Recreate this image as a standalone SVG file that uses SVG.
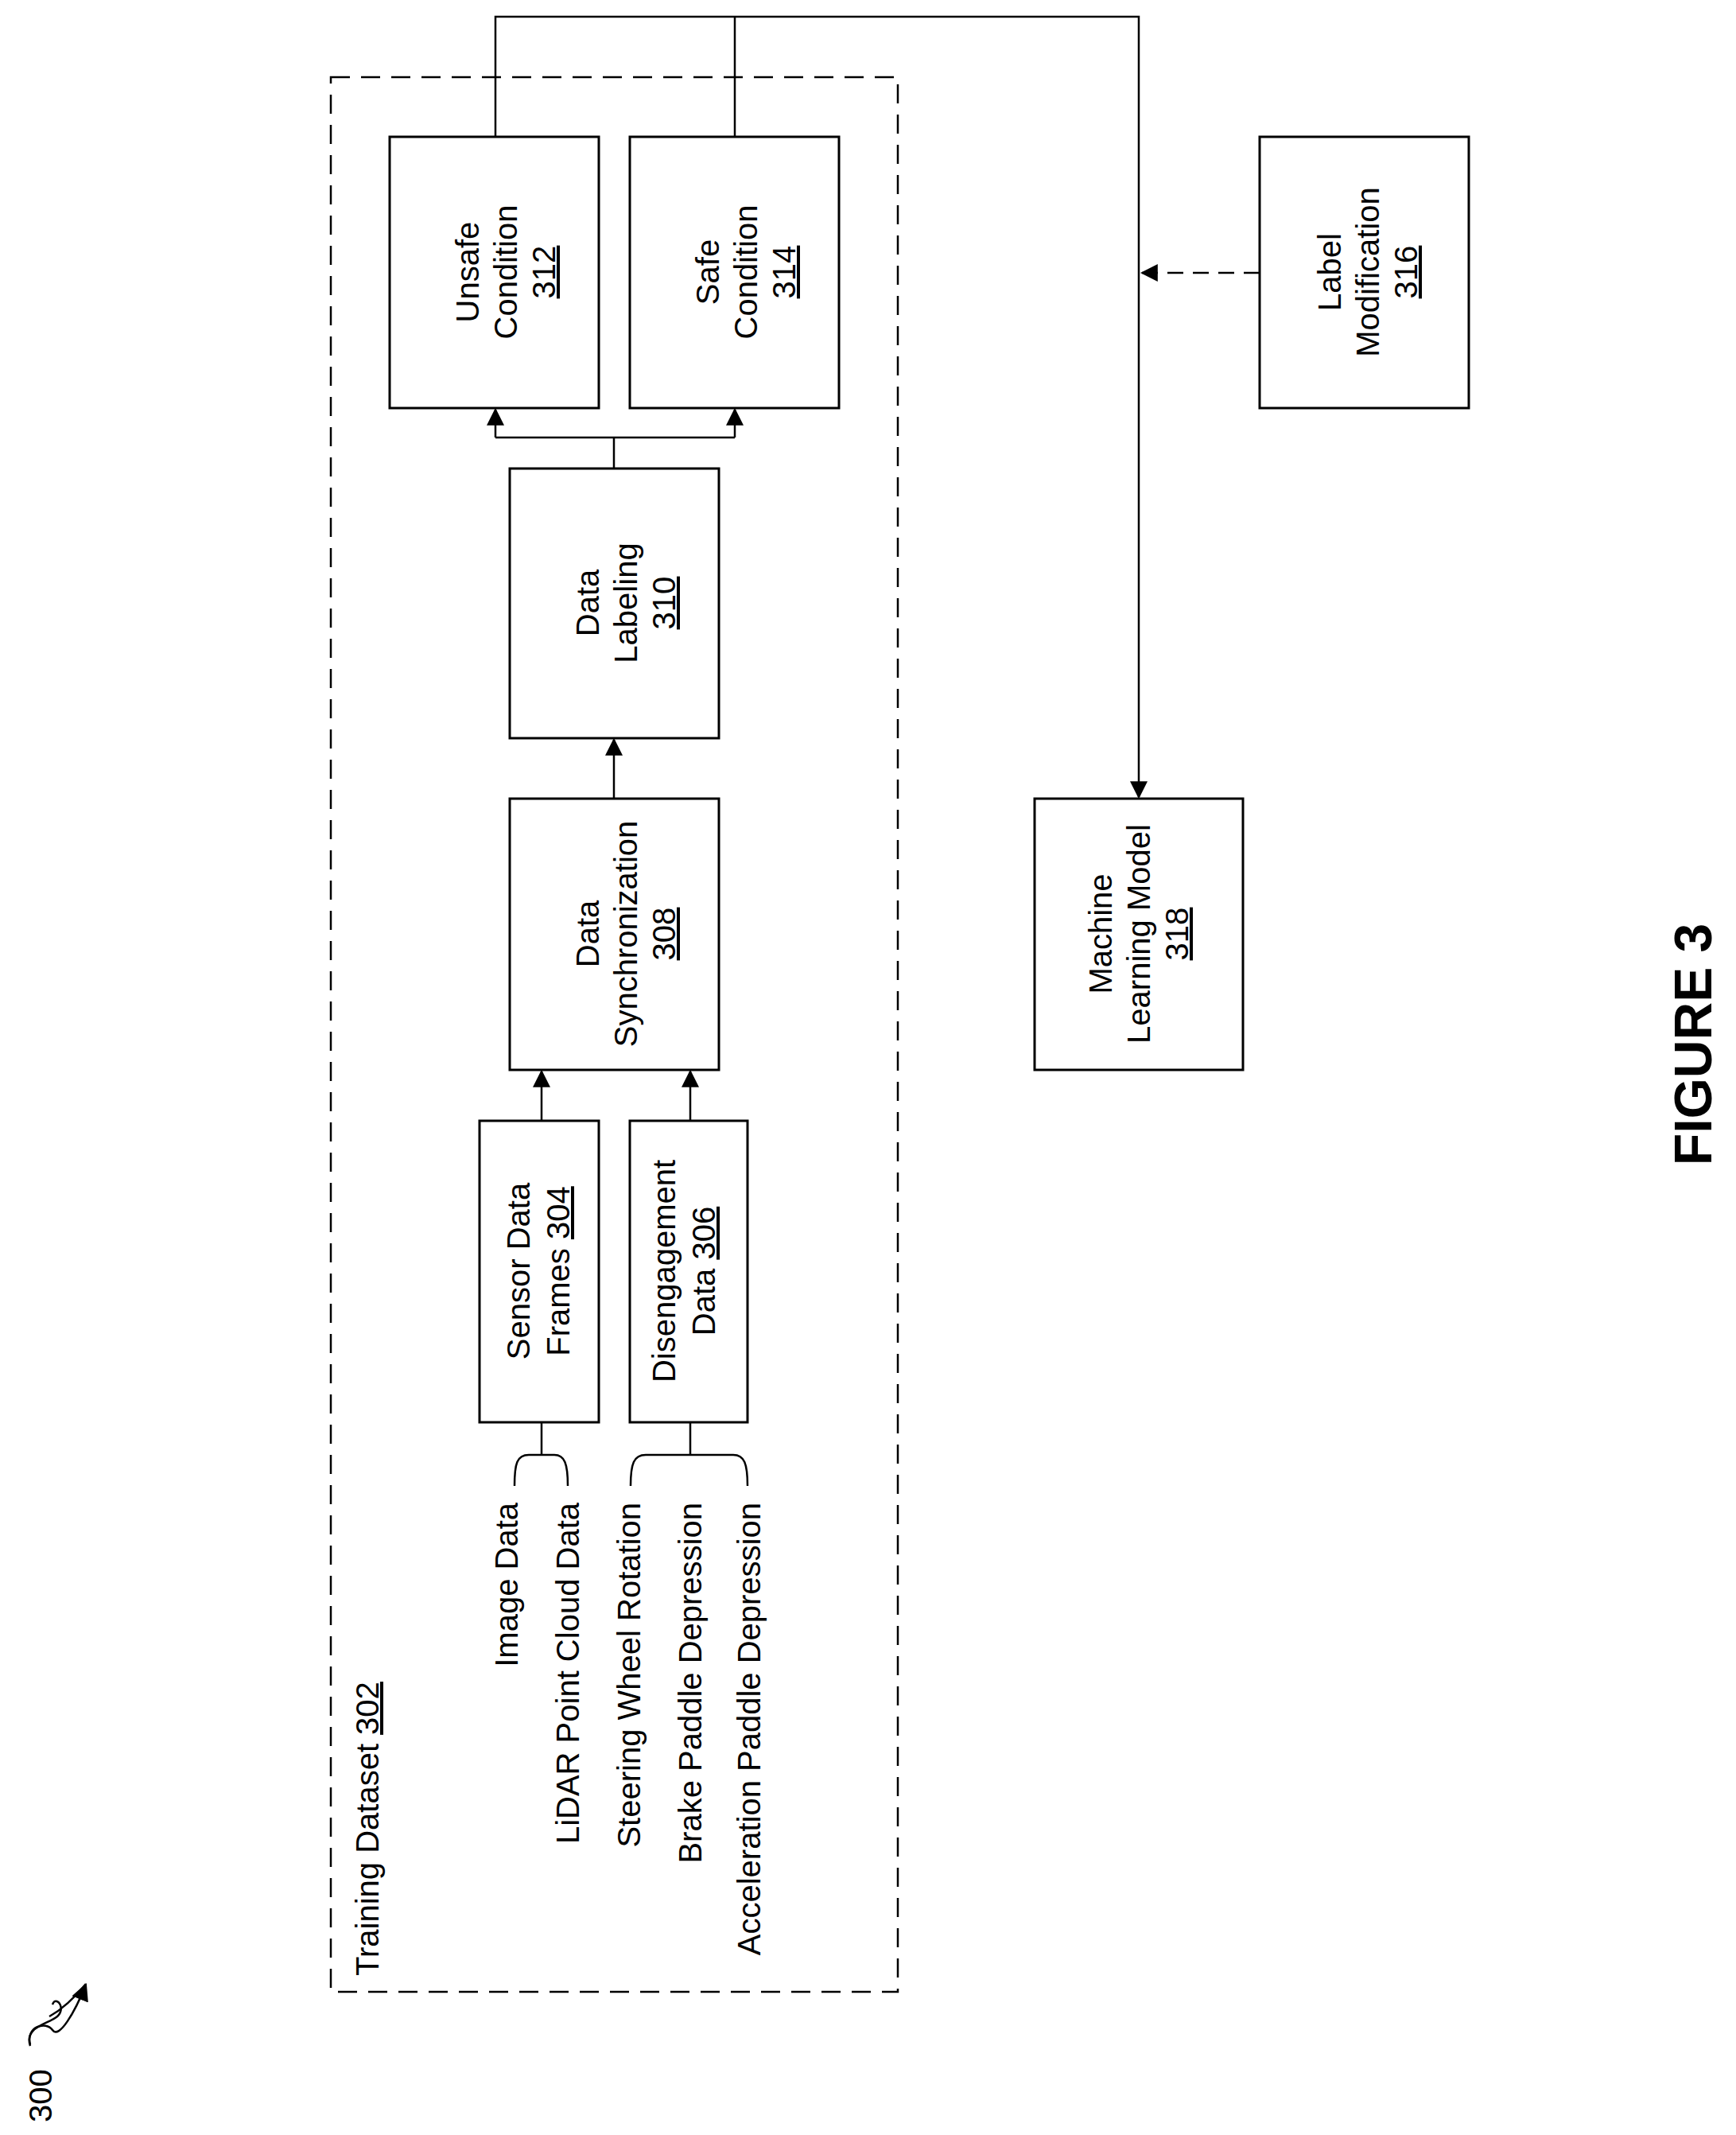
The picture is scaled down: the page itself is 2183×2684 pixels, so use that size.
<svg xmlns="http://www.w3.org/2000/svg" width="2183" height="2684" viewBox="0 0 2183 2684">
<style>
.b{fill:#fff;stroke:#000;stroke-width:3}
.t{font-family:"Liberation Sans",Arial,sans-serif;font-size:40px;fill:#000;text-anchor:middle}
.l{font-family:"Liberation Sans",Arial,sans-serif;font-size:40px;fill:#000;text-anchor:end}
.u{text-decoration:underline}
.c{fill:none;stroke:#000;stroke-width:2.5}
</style>
<defs>
<marker id="a" markerWidth="8" markerHeight="8" refX="7" refY="4" orient="auto" markerUnits="userSpaceOnUse" viewBox="0 0 8 8"><path d="M0,0L8,4L0,8z" fill="#000"/></marker>
<marker id="ah" viewBox="0 0 10 10" refX="9" refY="5" markerWidth="22" markerHeight="22" orient="auto" markerUnits="userSpaceOnUse"><path d="M0,0L10,5L0,10z" fill="#000"/></marker>
</defs>
<g id="training-dataset">
<rect x="416" y="97" width="713" height="2407" fill="none" stroke="#000" stroke-width="2.5" stroke-dasharray="24,14"/>
<text class="t" style="text-anchor:start" transform="translate(476,2484) rotate(-90)">Training Dataset <tspan class="u">302</tspan></text>
<text class="l" transform="translate(651,1889) rotate(-90)">Image Data</text>
<text class="l" transform="translate(728,1889) rotate(-90)">LiDAR Point Cloud Data</text>
<text class="l" transform="translate(805,1889) rotate(-90)">Steering Wheel Rotation</text>
<text class="l" transform="translate(882,1889) rotate(-90)">Brake Paddle Depression</text>
<text class="l" transform="translate(956,1889) rotate(-90)">Acceleration Paddle Depression</text>
</g>
<g id="unsafe"><rect class="b" x="490" y="172" width="263" height="341"/>
<text class="t" transform="translate(0,342)"><tspan transform="" x="0"/></text>
<text class="t" transform="translate(602,342) rotate(-90)">Unsafe</text>
<text class="t" transform="translate(650,342) rotate(-90)">Condition</text>
<text class="t u" transform="translate(698,342) rotate(-90)">312</text></g>
<g id="safe"><rect class="b" x="792" y="172" width="263" height="341"/>
<text class="t" transform="translate(904,342) rotate(-90)">Safe</text>
<text class="t" transform="translate(952,342) rotate(-90)">Condition</text>
<text class="t u" transform="translate(1000,342) rotate(-90)">314</text></g>
<g id="labeling"><rect class="b" x="641" y="589" width="263" height="339"/>
<text class="t" transform="translate(753,758) rotate(-90)">Data</text>
<text class="t" transform="translate(801,758) rotate(-90)">Labeling</text>
<text class="t u" transform="translate(849,758) rotate(-90)">310</text></g>
<g id="sync"><rect class="b" x="641" y="1004" width="263" height="341"/>
<text class="t" transform="translate(753,1174) rotate(-90)">Data</text>
<text class="t" transform="translate(801,1174) rotate(-90)">Synchronization</text>
<text class="t u" transform="translate(849,1174) rotate(-90)">308</text></g>
<g id="sensor"><rect class="b" x="603" y="1409" width="150" height="379"/>
<text class="t" transform="translate(666,1598) rotate(-90)">Sensor Data</text>
<text class="t" transform="translate(716,1598) rotate(-90)">Frames <tspan class="u">304</tspan></text></g>
<g id="diseng"><rect class="b" x="792" y="1409" width="148" height="379"/>
<text class="t" transform="translate(849,1598) rotate(-90)">Disengagement</text>
<text class="t" transform="translate(899,1598) rotate(-90)">Data <tspan class="u">306</tspan></text></g>
<g id="ml"><rect class="b" x="1301" y="1004" width="262" height="341"/>
<text class="t" transform="translate(1398,1174) rotate(-90)">Machine</text>
<text class="t" transform="translate(1446,1174) rotate(-90)">Learning Model</text>
<text class="t u" transform="translate(1494,1174) rotate(-90)">318</text></g>
<g id="labelmod"><rect class="b" x="1584" y="172" width="263" height="341"/>
<text class="t" transform="translate(1686,342) rotate(-90)">Label</text>
<text class="t" transform="translate(1734,342) rotate(-90)">Modification</text>
<text class="t u" transform="translate(1782,342) rotate(-90)">316</text></g>
<g id="connectors">
<path class="c" d="M681,1409V1347" marker-end="url(#ah)"/>
<path class="c" d="M868,1409V1347" marker-end="url(#ah)"/>
<path class="c" d="M772,1004V930" marker-end="url(#ah)"/>
<path class="c" d="M772,589V550M623,550H924"/>
<path class="c" d="M623,550V515" marker-end="url(#ah)"/>
<path class="c" d="M924,550V515" marker-end="url(#ah)"/>
<path class="c" d="M623,172V21H1432V1002" marker-end="url(#ah)"/>
<path class="c" d="M924,172V21"/>
<path class="c" d="M1584,343H1436" stroke-dasharray="20,12" marker-end="url(#ah)"/>
<path class="c" d="M681,1788V1829M868,1788V1829"/>
<path class="c" d="M647,1868C647,1840 650,1829 665,1829H697C710,1829 714,1840 714,1868"/>
<path class="c" d="M793,1868C793,1840 797,1829 812,1829H922C936,1829 940,1840 940,1868"/>
</g>
<g id="ref300">
<text class="t" style="text-anchor:start" transform="translate(65,2668) rotate(-90)">300</text>
<path class="c" d="M38,2572C30,2548 60,2545 72,2535C84,2524 70,2508 66,2520M62,2535C80,2525 95,2510 108,2494" stroke="none"/>
<path class="c" d="M38,2570C32,2548 58,2540 66,2552C74,2564 94,2530 108,2495" marker-end="url(#ah)"/>
</g>
<g id="figure"><text class="t" style="font-size:66px;font-weight:bold" transform="translate(2152,1313) rotate(-90)">FIGURE 3</text></g>
</svg>
